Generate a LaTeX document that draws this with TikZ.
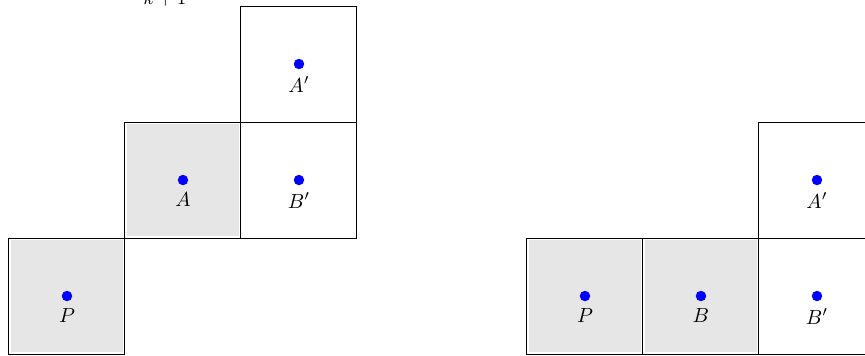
\documentclass[tikz,border=0pt]{standalone}
\usepackage{amsmath,amssymb}
\usepackage{tikz}
\usetikzlibrary{positioning}
\definecolor{CellGray}{HTML}{E6E6E6}
\definecolor{DotBlue}{HTML}{0000FF}

\tikzset{
  cell/.style={draw=black, line width=0.5pt, minimum size=2cm, inner sep=0pt, outer sep=0pt},
  usedcell/.style={cell, fill=CellGray,
    path picture={\draw[white, line width=2.2pt]
      (path picture bounding box.south west) rectangle (path picture bounding box.north east);}},
  pt/.style={circle, fill=DotBlue, minimum size=0.18cm, inner sep=0pt, label distance=-3.5pt}
}

\begin{document}
\begin{tikzpicture}[x=1cm,y=1cm]
  \useasboundingbox (0,0) rectangle (14.914,6.138);

  % left configuration
  \node[usedcell, anchor=south west] (lp) at (0.155,0.034) {};
  \node[usedcell, right=0pt of lp.north east, anchor=south west] (la) {};
  \node[cell, right=0pt of la] (lbp) {};
  \node[cell, above=0pt of lbp] (lap) {};

  \node[pt, label=below:{$P$}] (dlp) at (lp.center) {};
  \node[pt, label=below:{$A$}] (dla) at (la.center) {};
  \node[pt, label=below:{$B'$}] (dlbp) at (lbp.center) {};
  \node[pt, label=below:{$A'$}] (dlap) at (lap.center) {};

  \node[anchor=base, font=\small] (kk) at (2.845,6.06) {$k+1$};

  % right configuration
  \node[usedcell, anchor=south west] (rp) at (9.086,0.034) {};
  \node[usedcell, right=0pt of rp] (rb) {};
  \node[cell, right=0pt of rb] (rbp) {};
  \node[cell, above=0pt of rbp] (rap) {};

  \node[pt, label=below:{$P$}] (drp) at (rp.center) {};
  \node[pt, label=below:{$B$}] (drb) at (rb.center) {};
  \node[pt, label=below:{$B'$}] (drbp) at (rbp.center) {};
  \node[pt, label=below:{$A'$}] (drap) at (rap.center) {};

\end{tikzpicture}
\end{document}
